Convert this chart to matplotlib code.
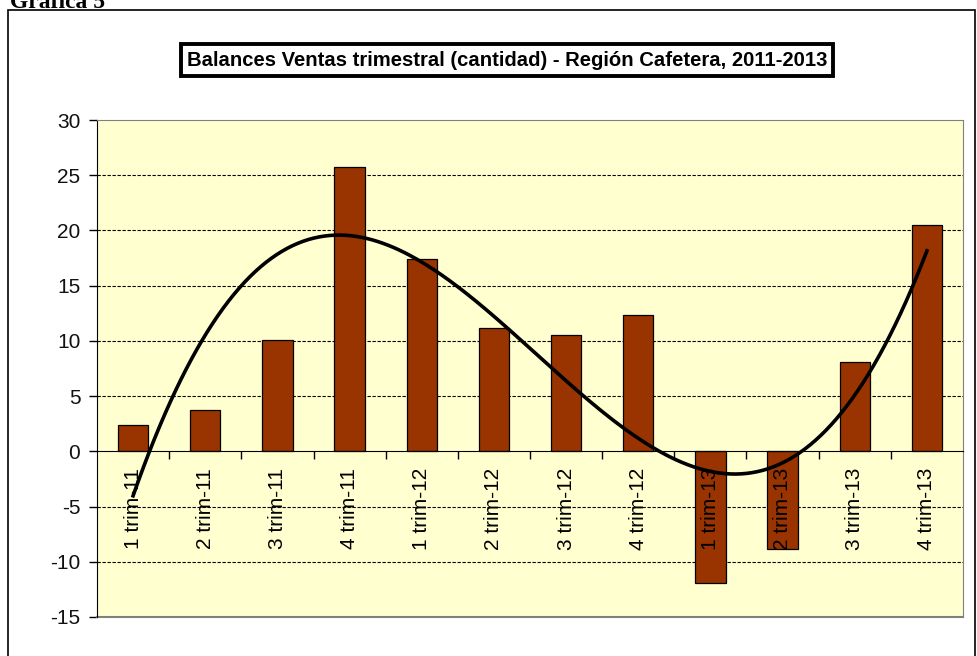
import numpy as np
import matplotlib
matplotlib.use("Agg")
import matplotlib.pyplot as plt
from matplotlib.patches import Rectangle

categories = ["1 trim-11", "2 trim-11", "3 trim-11", "4 trim-11",
              "1 trim-12", "2 trim-12", "3 trim-12", "4 trim-12",
              "1 trim-13", "2 trim-13", "3 trim-13", "4 trim-13"]
values = [2.4, 3.7, 10.1, 25.7, 17.4, 11.2, 10.5, 12.3, -11.9, -8.8, 8.1, 20.5]
title = "Balances Ventas trimestral (cantidad) - Región Cafetera, 2011-2013"
yticks = [-15, -10, -5, 0, 5, 10, 15, 20, 25, 30]

plt.rcParams['font.family'] = ['Liberation Sans', 'DejaVu Sans']

fig = plt.figure(figsize=(9.77, 6.56), dpi=100)
fig.patch.set_facecolor('white')
W, H = 977, 656

# outer frame
fig.patches.append(Rectangle((8 / W, -0.05), (975 - 8) / W, (H - 10) / H + 0.05,
                             transform=fig.transFigure, fill=False,
                             edgecolor='black', linewidth=1.2, clip_on=False))
fig.text(10 / W, (H - 8) / H, "Gráfica 5", family='Liberation Serif',
         fontweight='bold', fontsize=17, ha='left', va='baseline')

ax = fig.add_axes([97 / W, (H - 617) / H, (963 - 97) / W, (617 - 120) / H])
ax.set_facecolor('#FFFFD0')

x = np.arange(1, len(values) + 1)
ax.bar(x, values, width=0.42, color='#993300', edgecolor='black', linewidth=0.9, zorder=3)

coef = np.polyfit(x, values, 3)
xs = np.linspace(1, len(values), 300)
ax.plot(xs, np.polyval(coef, xs), color='black', linewidth=2.6, zorder=7)

ax.set_xlim(0.5, len(values) + 0.5)
ax.set_ylim(-15, 30)
ax.set_yticks(yticks)
ax.set_yticklabels([str(t) for t in yticks], fontsize=15, color='#111111')
ax.tick_params(axis='y', direction='out', length=6, width=1, pad=6)

for g in [-10, -5, 5, 10, 15, 20, 25]:
    ax.axhline(g, color='black', linestyle=(0, (3, 1.5)), linewidth=0.8, zorder=1)

ax.spines['bottom'].set_position(('data', 0))
ax.spines['bottom'].set_color('black')
ax.spines['bottom'].set_zorder(5)
ax.spines['left'].set_color('black')
for s in ['top', 'right']:
    ax.spines[s].set_color('#808080')
# gray bottom border of plot area
ax.plot([0, 1], [0, 0], transform=ax.transAxes, color='#808080', linewidth=1.5, clip_on=False)

ax.set_xticks(x)
ax.set_xticklabels(categories, rotation=90, fontsize=15, va='top', ha='center')
ax.tick_params(axis='x', which='major', length=0, pad=12)
ax.set_xticks(np.arange(1.5, len(values), 1.0), minor=True)
ax.tick_params(axis='x', which='minor', direction='out', length=6, width=1)
ax.xaxis.set_zorder(6)

fig.text(507 / W, (H - 60) / H, title, fontsize=14.6, fontweight='bold',
         ha='center', va='center',
         bbox=dict(boxstyle='square,pad=0.3', facecolor='white',
                   edgecolor='black', linewidth=2.8))

fig.savefig("out.png", dpi=100)
